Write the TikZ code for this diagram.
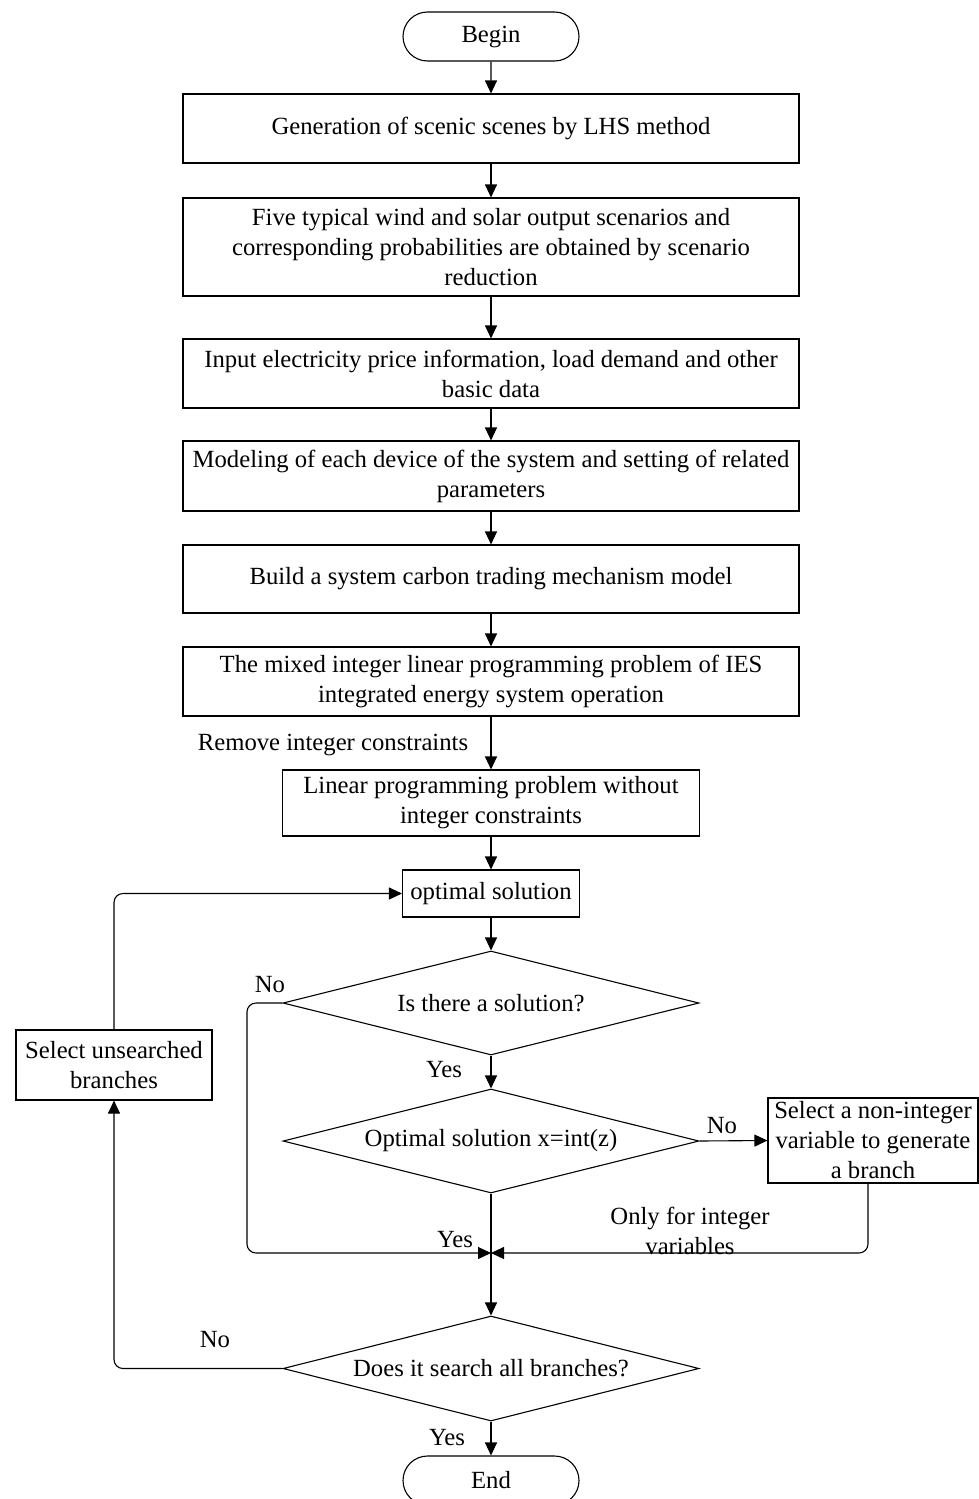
\documentclass[tikz,border=0pt]{standalone}
\usepackage{fontspec}
\setmainfont{Liberation Serif}
\usetikzlibrary{shapes.geometric,shapes.misc,arrows.meta}
\begin{document}
\begin{tikzpicture}[x=1pt,y=-1pt,
  every node/.style={font=\fontsize{24.7}{30}\selectfont},
  box/.style={draw, line width=1.1pt, rectangle, inner sep=2pt, align=center},
  term/.style={draw, line width=1.1pt, rounded rectangle, inner sep=0pt, minimum width=176pt, minimum height=49pt},
  dec/.style={draw, line width=1.1pt, diamond, aspect=4, inner sep=0pt, minimum width=416pt, minimum height=104pt, align=center},
  lbl/.style={inner sep=0pt, align=center},
  conn/.style={line width=1.1pt, -{Triangle[length=13pt,width=12pt]}},
  plain/.style={line width=1.1pt},
  loop/.style={line width=1.1pt, rounded corners=9pt}
]
\useasboundingbox (0,0) rectangle (979,1499);
\clip (0,0) rectangle (979,1499);

\node[term] (begin) at (491,36.5) {Begin};
\node[box, minimum width=616pt, minimum height=69pt] (b1) at (491,128.5) {Generation of scenic scenes by LHS method};
\node[box, minimum width=616pt, minimum height=98pt] (b2) at (491,247) {Five typical wind and solar output scenarios and\\corresponding probabilities are obtained by scenario\\reduction};
\node[box, minimum width=616pt, minimum height=69pt] (b3) at (491,373.5) {Input electricity price information, load demand and other\\basic data};
\node[box, minimum width=616pt, minimum height=70pt] (b4) at (491,476) {Modeling of each device of the system and setting of related\\parameters};
\node[box, minimum width=616pt, minimum height=68pt] (b5) at (491,579) {Build a system carbon trading mechanism model};
\node[box, minimum width=616pt, minimum height=69pt] (b6) at (491,681.5) {The mixed integer linear programming problem of IES\\integrated energy system operation};
\node[box, minimum width=417pt, minimum height=66pt] (b7) at (491,803) {Linear programming problem without\\integer constraints};
\node[box, minimum width=177pt, minimum height=47pt] (b8) at (491,893.5) {optimal solution};
\node[dec] (d1) at (491,1003) {Is there a solution?};
\node[dec] (d2) at (491,1141) {Optimal solution x=int(z)};
\node[box, minimum width=210pt, minimum height=85pt, inner sep=1pt] (b9) at (873,1140.5) {Select a non-integer\\variable to generate\\a branch};
\node[dec, minimum height=105pt] (d3) at (491,1368.5) {Does it search all branches?};
\node[box, minimum width=196pt, minimum height=70pt] (b10) at (114,1065) {Select unsearched\\branches};
\node[term] (end) at (491,1480.5) {End};

\coordinate (J) at (491,1253);
\coordinate (b9s) at ([xshift=-5pt]b9.south);

\draw[conn] (begin) -- (b1);
\draw[conn] (b1) -- (b2);
\draw[conn] (b2) -- (b3);
\draw[conn] (b3) -- (b4);
\draw[conn] (b4) -- (b5);
\draw[conn] (b5) -- (b6);
\draw[conn] (b6) -- (b7);
\draw[conn] (b7) -- (b8);
\draw[conn] (b8) -- (d1);
\draw[conn] (d1.south) -- (d2.north);
\draw[conn] (d2.east) -- (b9.west);
\draw[plain] (d2.south) -- (J);
\draw[conn] (J) -- (d3.north);
\draw[conn] (d3.south) -- (end.north);

\draw[loop, -{Triangle[length=13pt,width=12pt]}] (d1.west) -| (247,1253) -- (J);
\draw[loop, -{Triangle[length=13pt,width=12pt]}] (b9s) |- (J);
\draw[loop, -{Triangle[length=13pt,width=12pt]}] (d3.west) -| (b10.south);
\draw[loop, -{Triangle[length=13pt,width=12pt]}] (b10.north) |- (b8.west);

\node[lbl] (l1) at (333,745) {Remove integer constraints};
\node[lbl] (l2) at (270,985) {No};
\node[lbl] (l3) at (444,1070) {Yes};
\node[lbl] (l4) at (722,1126) {No};
\node[lbl] (l5) at (455,1240) {Yes};
\node[lbl] (l6) at (690,1231) {Only for integer\\variables};
\node[lbl] (l7) at (215,1340) {No};
\node[lbl] (l8) at (447,1438) {Yes};
\end{tikzpicture}
\end{document}
